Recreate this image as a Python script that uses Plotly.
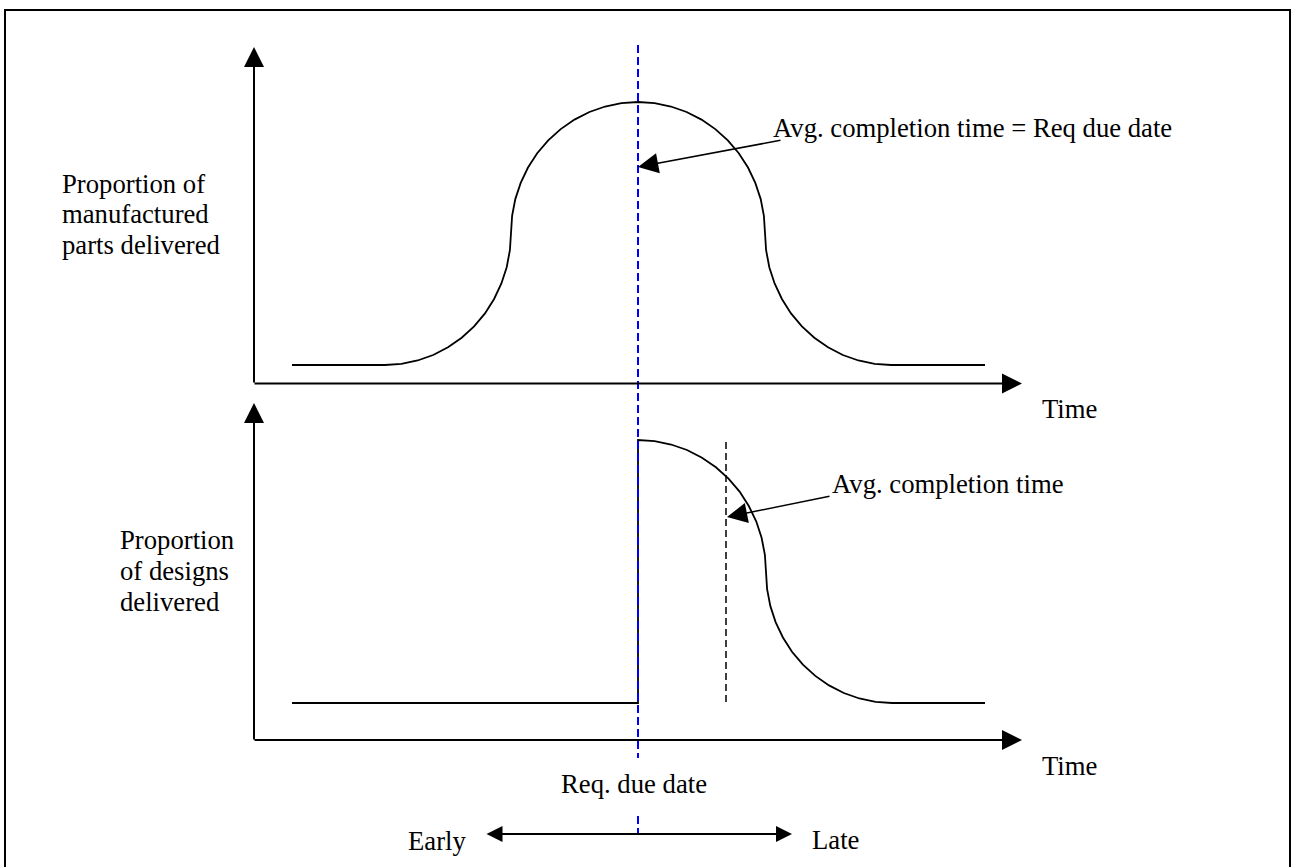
import plotly.graph_objects as go

# everything is laid out in picture pixels (x to the right, y downwards)
due_date_x = 638
avg_completion_x = 726

# manufactured parts: flat, S-shaped rise, round top, S-shaped fall, flat
top_curve_x = [292, 385, 401.4, 417.6, 433.2, 448, 461.7, 474.1, 485, 494.1, 501.4, 506.7, 509.9,
               511, 512.1, 515.3, 520.7, 528, 537.2, 548.2, 560.7, 574.5, 589.4, 605.1, 621.4,
               638, 654.6, 670.9, 686.6, 701.5, 715.3, 727.8, 738.8, 748, 755.3, 760.7, 763.9,
               765, 766.1, 769.3, 774.6, 781.9, 791, 801.9, 814.3, 828, 842.8, 858.4, 874.6, 891, 985]
top_curve_y = [365, 365, 363.9, 360.5, 355, 347.3, 337.7, 326.3, 313.4, 299, 283.5, 267.2, 250.2,
               233, 215.9, 199.1, 182.9, 167.5, 153.2, 140.4, 129.1, 119.6, 112, 106.5, 103.1,
               102, 103.1, 106.5, 112, 119.6, 129.1, 140.4, 153.2, 167.5, 182.9, 199.1, 215.9,
               233, 250.2, 267.2, 283.5, 299, 313.4, 326.3, 337.7, 347.3, 355, 360.5, 363.9, 365, 365]

# designs: nothing before the due date, jump, then decay
bottom_curve_x = [292, 638, 638, 654.7, 671.1, 687, 702, 715.9, 728.5, 739.6, 748.8, 756.3, 761.6, 764.9,
                  766, 767.1, 770.3, 775.6, 782.9, 792, 802.9, 815.3, 829, 843.8, 859.4, 875.6, 892, 985]
bottom_curve_y = [703, 703, 440, 441.1, 444.5, 450, 457.7, 467.3, 478.7, 491.6, 506, 521.5, 537.8, 554.8,
                  572, 589.1, 605.9, 622.1, 637.5, 651.8, 664.6, 675.9, 685.4, 693, 698.5, 701.9, 703, 703]

due_line_y = [45, 758, None, 816, 834]
avg_line_y = [442, 705]

# axes as arrows: (tail x, tail y, tip x, tip y)
axis_arrows = [
    (254, 384, 254, 47),
    (253, 383.5, 1022, 383.5),
    (254, 741, 254, 403),
    (253, 740, 1022, 740),
]
# pointer arrows from the labels
pointer_arrows = [
    (782, 140, 638, 167),
    (831, 496, 727, 517),
]

# labels: (text, left x, middle y)
labels = [
    ("Avg. completion time = Req due date", 773, 128),
    ("Avg. completion time", 832, 484),
    ("Proportion of", 62, 184),
    ("manufactured", 62, 214),
    ("parts delivered", 62, 245),
    ("Proportion", 120, 540),
    ("of designs", 120, 571),
    ("delivered", 120, 602),
    ("Time", 1042, 409),
    ("Time", 1042, 766),
    ("Early", 408, 841),
    ("Late", 812, 840),
]

font = dict(family="Liberation Serif", size=26.7, color="black")

fig = go.Figure()

fig.add_trace(go.Scatter(x=[5, 5, 1290, 1290], y=[880, 10, 10, 880], mode="lines",
                         line=dict(color="black", width=2)))

fig.add_trace(go.Scatter(x=top_curve_x, y=top_curve_y, mode="lines",
                         line=dict(color="black", width=1.8)))
fig.add_trace(go.Scatter(x=bottom_curve_x, y=bottom_curve_y, mode="lines",
                         line=dict(color="black", width=1.8)))

fig.add_trace(go.Scatter(x=[avg_completion_x] * 2, y=avg_line_y, mode="lines",
                         line=dict(color="black", width=1.5, dash="7px,4px")))
fig.add_trace(go.Scatter(x=[due_date_x, due_date_x, None, due_date_x, due_date_x], y=due_line_y,
                         mode="lines", line=dict(color="#0000ff", width=2, dash="8px,4px")))

for tx, ty, hx, hy in axis_arrows:
    fig.add_annotation(x=hx, y=hy, ax=tx, ay=ty, xref="x", yref="y", axref="x", ayref="y",
                       text="", showarrow=True, arrowhead=2, arrowsize=2, arrowwidth=2,
                       arrowcolor="black", standoff=0, startstandoff=0)

for tx, ty, hx, hy in pointer_arrows:
    fig.add_annotation(x=hx, y=hy, ax=tx, ay=ty, xref="x", yref="y", axref="x", ayref="y",
                       text="", showarrow=True, arrowhead=2, arrowsize=2.7, arrowwidth=1.5,
                       arrowcolor="black", standoff=0, startstandoff=0)

# early / late double arrow
fig.add_annotation(x=792, y=834, ax=485, ay=834, xref="x", yref="y", axref="x", ayref="y",
                   text="", showarrow=True, arrowhead=2, startarrowhead=2, arrowside="end+start",
                   arrowsize=1.6, startarrowsize=1.6, arrowwidth=2, arrowcolor="black",
                   standoff=0, startstandoff=0)

# annotation boxes add a couple of pixels of padding on the left
for txt, lx, my in labels:
    fig.add_annotation(x=lx - 2.5, y=my, xref="x", yref="y", text=txt, showarrow=False,
                       xanchor="left", yanchor="middle", font=font)

fig.add_annotation(x=634, y=784, xref="x", yref="y", text="Req. due date", showarrow=False,
                   xanchor="center", yanchor="middle", font=font)

fig.update_xaxes(range=[0, 1292], visible=False)
fig.update_yaxes(range=[867, 0], visible=False)
fig.update_layout(width=1292, height=867, margin=dict(l=0, r=0, t=0, b=0),
                  plot_bgcolor="white", paper_bgcolor="white", showlegend=False)

# the page's default body margin would push the drawing 8px off
fig.write_html("out.html", config={"displayModeBar": False},
               post_script="document.body.style.margin='0';document.body.style.overflow='hidden';")
